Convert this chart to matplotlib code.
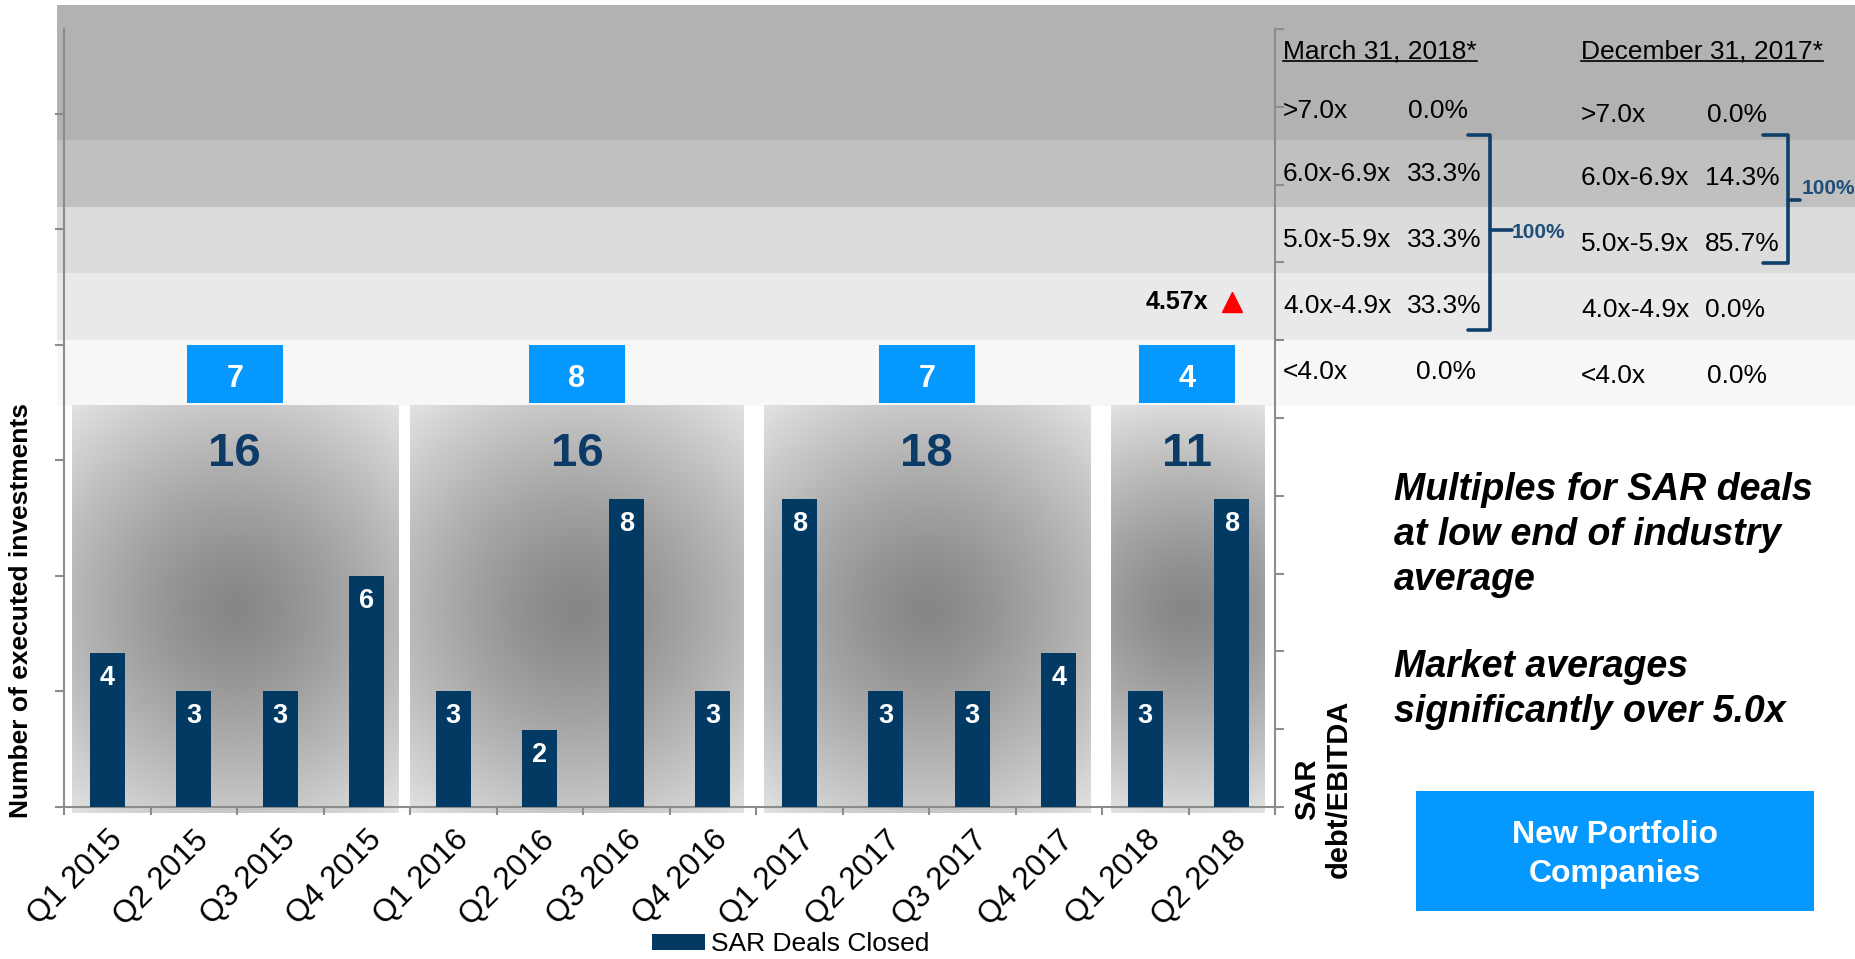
import numpy as np
import matplotlib
matplotlib.use('Agg')
import matplotlib.pyplot as plt
from matplotlib.patches import Rectangle
from matplotlib.lines import Line2D
import matplotlib.transforms as mtransforms

plt.rcParams['font.family'] = ['Liberation Sans', 'DejaVu Sans']

# ---------------- data ----------------
quarters = ['Q1 2015', 'Q2 2015', 'Q3 2015', 'Q4 2015',
            'Q1 2016', 'Q2 2016', 'Q3 2016', 'Q4 2016',
            'Q1 2017', 'Q2 2017', 'Q3 2017', 'Q4 2017',
            'Q1 2018', 'Q2 2018']
deals = [4, 3, 3, 6, 3, 2, 8, 3, 8, 3, 3, 4, 3, 8]
year_first = [0, 4, 8, 12]
year_last = [3, 7, 11, 13]
year_totals = [16, 16, 18, 11]
new_portfolio = [7, 8, 7, 4]
latest_multiple = 4.57
mult_rows = ['>7.0x', '6.0x-6.9x', '5.0x-5.9x', '4.0x-4.9x', '<4.0x']
row_floor = [7, 6, 5, 4, 3]
mar_2018 = [0.0, 33.3, 33.3, 33.3, 0.0]
dec_2017 = [0.0, 14.3, 85.7, 0.0, 0.0]
col_headers = ['March 31, 2018*', 'December 31, 2017*']

# ---------------- layout / style ----------------
BAR = '#033a64'
NAVY = '#0b3b66'
BLUE = '#0599ff'
GRAY = '#8c8c8c'
panel_left_pad = [0.09, 0.0, 0.09, 0.10]
panel_right_pad = [0.14, 0.14, 0.14, 0.13]
mar_baseline_off = [0.33, 0.38, 0.39, 0.40, 0.40]
dec_baseline_off = [0.27, 0.32, 0.33, 0.34, 0.35]
mar_val_x = [1408, 1407, 1407, 1407, 1416]
dec_val_x = [1707, 1705, 1705, 1705, 1707]

W, H = 1855, 959
fig = plt.figure(figsize=(W / 100, H / 100), dpi=100)


def fx(x):
    return x / W


def fy(y):
    return 1 - y / H


# ---------------- background table bands ----------------
tab = fig.add_axes([fx(57), fy(406), 1 - fx(57), fy(5) - fy(406)])
tab.set_zorder(0)
tab.set_xlim(0, 1)
tab.set_ylim(3, 3 + 401 / 66.5)
tab.axis('off')
band_colors = ['#b2b2b2', '#c0c0c0', '#dcdcdc', '#e9e9e9', '#f7f7f7']
for i, (fl, c) in enumerate(zip(row_floor, band_colors)):
    top = tab.get_ylim()[1] if i == 0 else row_floor[i - 1]
    tab.axhspan(fl, top, color=c, lw=0)

# ---------------- bar axes ----------------
ax = fig.add_axes([fx(64), fy(807), fx(1275) - fx(64), fy(29) - fy(807)])
ax.set_zorder(2)
ax.patch.set_visible(False)
x = np.arange(len(quarters))
XL = (-0.5, len(quarters) - 0.5)
YL = (0, 20.2)

px_x = (1275 - 64) / len(quarters)
px_y = (807 - 29) / (YL[1] - YL[0])
panel_centers = []
for f, l, lp, rp in zip(year_first, year_last, panel_left_pad, panel_right_pad):
    x0, x1 = f - 0.5 + lp, l + 0.5 - rp
    panel_centers.append((x0 + x1) / 2)
    y0, y1 = -0.16, 10.42
    wpx, hpx = (x1 - x0) * px_x, (y1 - y0) * px_y
    u = np.linspace(-wpx / 2, wpx / 2, 240)
    v = np.linspace(-hpx / 2, hpx / 2, 300)
    U, V = np.meshgrid(u, v)
    r = np.sqrt(U ** 2 + V ** 2) / np.hypot(wpx / 2, hpx / 2)
    g = (134 + 92 * r ** 1.3) / 255
    img = np.dstack([g, g, g])
    ax.imshow(img, extent=(x0, x1, y0, y1), aspect='auto', zorder=1,
              interpolation='bilinear', clip_on=False)

bars = ax.bar(x, deals, width=0.4, color=BAR, zorder=3, label='SAR Deals Closed')
for xi, v in zip(x, deals):
    ax.annotate(str(v), (xi, v), xytext=(0, -23), textcoords='offset points',
                ha='center', va='baseline', color='white', fontweight='bold',
                fontsize=19.5, zorder=4)

for c, tot, npc in zip(panel_centers, year_totals, new_portfolio):
    ax.text(c, 8.86, str(tot), ha='center', va='baseline', fontsize=34,
            fontweight='bold', color=NAVY, zorder=4)
    ax.add_patch(Rectangle((c - 0.555, 10.49), 1.11, 1.51, color=BLUE,
                           zorder=2, clip_on=False, lw=0))
    ax.text(c, 10.91, str(npc), ha='center', va='baseline', fontsize=22,
            fontweight='bold', color='white', zorder=4)

ax.set_xlim(*XL)
ax.set_ylim(*YL)
for s in ['top', 'right']:
    ax.spines[s].set_visible(False)
for s in ['left', 'bottom']:
    ax.spines[s].set_color(GRAY)
    ax.spines[s].set_linewidth(1.5)
ax.set_yticks(np.arange(0, 19, 3))
ax.set_yticklabels([])
ax.tick_params(axis='y', direction='out', length=6.5, width=1.5, color=GRAY)
ax.set_xticks(x)
ax.set_xticklabels(quarters, rotation=45, ha='right', rotation_mode='anchor',
                   fontsize=22.5)
ax.tick_params(axis='x', which='major', length=0, pad=13)
ax.set_xticks(np.arange(len(quarters) + 1) - 0.5, minor=True)
ax.tick_params(axis='x', which='minor', length=6, width=1.5, color=GRAY,
               direction='out')

# right (debt/EBITDA) axis
axr = ax.twinx()
axr.set_zorder(2)
axr.set_ylim(0, 10)
axr.set_yticks(range(11))
axr.set_yticklabels([])
axr.tick_params(axis='y', direction='out', length=6.5, width=1.5, color=GRAY)
for s in ['top', 'left', 'bottom']:
    axr.spines[s].set_visible(False)
axr.spines['right'].set_color(GRAY)
axr.spines['right'].set_linewidth(1.5)

# latest multiple marker
blend = mtransforms.blended_transform_factory(ax.transData, tab.transData)
ax.plot([x[-1]], [latest_multiple], marker='^', ms=15, color='#ff0000',
        transform=blend, zorder=6, clip_on=False, lw=0)
ax.annotate(f'{latest_multiple:.2f}x', xy=(x[-1], latest_multiple),
            xycoords=blend, xytext=(-17, 0), textcoords='offset points',
            ha='right', va='center', fontsize=18, fontweight='bold', zorder=6)

# ---------------- table texts ----------------
blend2 = mtransforms.blended_transform_factory(fig.transFigure, tab.transData)
hdr_x = [1283, 1581]
hdrs = []
for hx, ht in zip(hdr_x, col_headers):
    hdrs.append(tab.text(fx(hx), 8.23, ht, transform=blend2, fontsize=19,
                         va='baseline', ha='left', color='black'))
for i, lab in enumerate(mult_rows):
    ym = row_floor[i] + mar_baseline_off[i]
    yd = row_floor[i] + dec_baseline_off[i]
    tab.text(fx(1283), ym, lab, transform=blend2, fontsize=19, va='baseline')
    tab.text(fx(mar_val_x[i]), ym, f'{mar_2018[i]:.1f}%', transform=blend2,
             fontsize=19, va='baseline')
    tab.text(fx(1581), yd, lab, transform=blend2, fontsize=19, va='baseline')
    tab.text(fx(dec_val_x[i]), yd, f'{dec_2017[i]:.1f}%', transform=blend2,
             fontsize=19, va='baseline')


def bracket(x0, xv, top, bot, mid, xs):
    fig.add_artist(Line2D([fx(x0), fx(xv), fx(xv), fx(x0)],
                          [fy(top), fy(top), fy(bot), fy(bot)],
                          transform=fig.transFigure, color='#0f3f6b', lw=2.6,
                          solid_joinstyle='round', solid_capstyle='round'))
    fig.add_artist(Line2D([fx(xv), fx(xs)], [fy(mid), fy(mid)],
                          transform=fig.transFigure, color='#0f3f6b', lw=2.6,
                          solid_capstyle='round'))


bracket(1468, 1490, 135, 330, 230, 1512)
bracket(1763, 1788, 135, 263, 200, 1800)
fig.text(fx(1512), fy(233), '100%', va='center', ha='left', fontsize=15,
         fontweight='bold', color='#1f4e79')
fig.text(fx(1802), fy(189), '100%', va='center', ha='left', fontsize=15,
         fontweight='bold', color='#1f4e79')

# ---------------- labels ----------------
fig.text(fx(21), fy(611), 'Number of executed investments', rotation=90,
         ha='center', va='center', fontsize=19, fontweight='bold')
fig.text(fx(1323), fy(789), 'SAR\ndebt/EBITDA', rotation=90, ha='center',
         va='center', multialignment='center', fontsize=21, fontweight='bold')

fig.legend([bars], ['SAR Deals Closed'], loc='center left',
           bbox_to_anchor=(fx(652), fy(944)), frameon=False, fontsize=19,
           handlelength=2.0, handleheight=0.55, handletextpad=0.25,
           borderpad=0, borderaxespad=0)

for yb, t in zip([500, 545, 590, 677, 722],
                 ['Multiples for SAR deals', 'at low end of industry', 'average',
                  'Market averages', 'significantly over 5.0x']):
    fig.text(fx(1394), fy(yb), t, ha='left', va='baseline', fontsize=27,
             fontweight='bold', fontstyle='italic')

fig.add_artist(Rectangle((fx(1416), fy(911)), fx(1814) - fx(1416),
                         fy(791) - fy(911), transform=fig.transFigure,
                         color=BLUE, lw=0))
fig.text(fx(1615), fy(843), 'New Portfolio', ha='center', va='baseline',
         fontsize=23, fontweight='bold', color='white')
fig.text(fx(1615), fy(882), 'Companies', ha='center', va='baseline',
         fontsize=23, fontweight='bold', color='white')

# underline headers
fig.canvas.draw()
for t in hdrs:
    bb = t.get_window_extent()
    yb = blend2.transform((0, 8.23))[1] - 3
    fig.add_artist(Line2D([bb.x0 / W, bb.x1 / W], [yb / H, yb / H],
                          transform=fig.transFigure, color='black', lw=1.2))

fig.savefig('out.png', dpi=100)
